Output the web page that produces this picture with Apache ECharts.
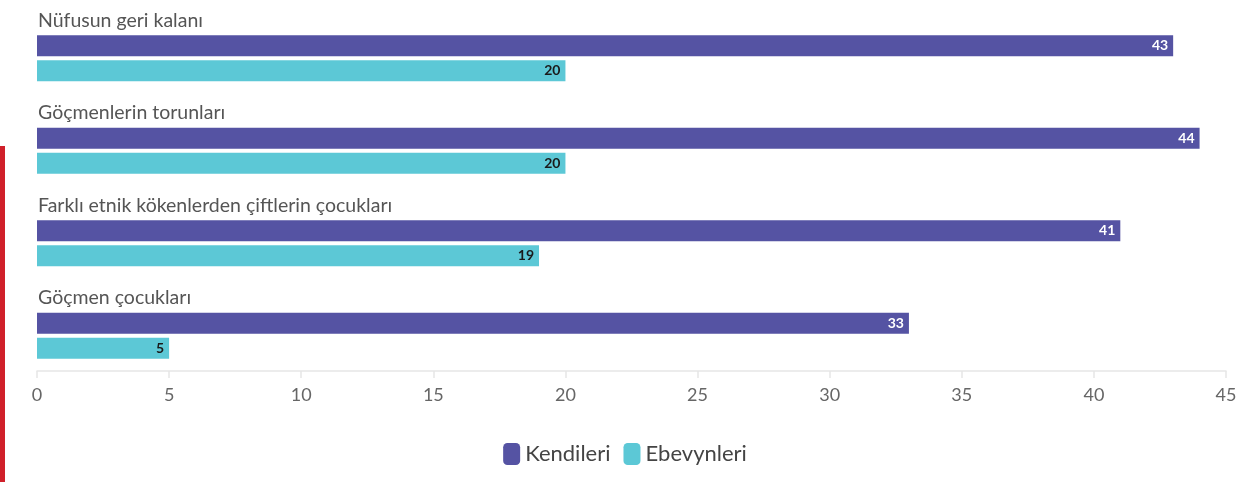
<!DOCTYPE html>
<html>
<head>
<meta charset="utf-8">
<script src="https://cdn.jsdelivr.net/npm/echarts@6/dist/echarts.min.js"></script>
<style>
  html, body { margin: 0; padding: 0; background: #fff; }
  #chart { width: 1250px; height: 482px; }
</style>
</head>
<body>
<div id="chart"></div>
<script>
// Groups shown top to bottom
const categories = [
  'Nüfusun geri kalanı',
  'Göçmenlerin torunları',
  'Farklı etnik kökenlerden çiftlerin çocukları',
  'Göçmen çocukları'
];
const seriesNames = ['Kendileri', 'Ebevynleri'];
const kendileri = [43, 44, 41, 33];
const ebevynleri = [20, 20, 19, 5];

const FONT = 'Lato, "Noto Sans", sans-serif';
const PURPLE = '#5553a3';
const CYAN = '#5cc8d6';

const chart = echarts.init(document.getElementById('chart'), null, { renderer: 'canvas' });

chart.setOption({
  animation: false,
  textStyle: { fontFamily: FONT },
  grid: { left: 37, right: 24, top: 12, height: 370, containLabel: false },
  xAxis: {
    type: 'value',
    min: 0,
    max: 45,
    interval: 5,
    offset: -11,
    axisLine: { show: true, lineStyle: { color: '#e6e6e6', width: 1.5 } },
    axisTick: { show: true, length: 7, lineStyle: { color: '#e6e6e6', width: 1.5 } },
    splitLine: { show: false },
    axisLabel: { color: '#666', fontSize: 18, margin: 15, fontFamily: FONT }
  },
  yAxis: {
    type: 'category',
    data: categories,
    inverse: true,
    axisLine: { show: false },
    axisTick: { show: false },
    splitLine: { show: false },
    axisLabel: {
      inside: true,
      margin: 1,
      align: 'left',
      verticalAlign: 'bottom',
      padding: [0, 0, 27, 0],
      color: '#555',
      fontSize: 19.5,
      lineHeight: 22,
      fontFamily: FONT
    }
  },
  legend: {
    data: seriesNames,
    top: 438,
    left: 'center',
    icon: 'roundRect',
    itemWidth: 17,
    itemHeight: 22,
    itemGap: 13,
    textStyle: { color: '#444', fontSize: 22, fontFamily: FONT }
  },
  series: [
    {
      name: seriesNames[0],
      type: 'bar',
      data: kendileri,
      barWidth: 21,
      barGap: '20%',
      itemStyle: { color: PURPLE },
      label: {
        show: true,
        position: 'insideRight',
        distance: 5,
        color: '#fff',
        fontWeight: 'bold',
        fontSize: 14,
        fontFamily: FONT
      }
    },
    {
      name: seriesNames[1],
      type: 'bar',
      data: ebevynleri,
      barWidth: 21,
      barGap: '20%',
      itemStyle: { color: CYAN },
      label: {
        show: true,
        position: 'insideRight',
        distance: 5,
        color: '#1a1a1a',
        fontWeight: 'bold',
        fontSize: 14,
        fontFamily: FONT
      }
    }
  ],
  graphic: [
    {
      type: 'rect',
      left: 0,
      top: 146,
      shape: { width: 5, height: 336 },
      style: { fill: '#d0202a' }
    }
  ]
});
</script>
</body>
</html>
